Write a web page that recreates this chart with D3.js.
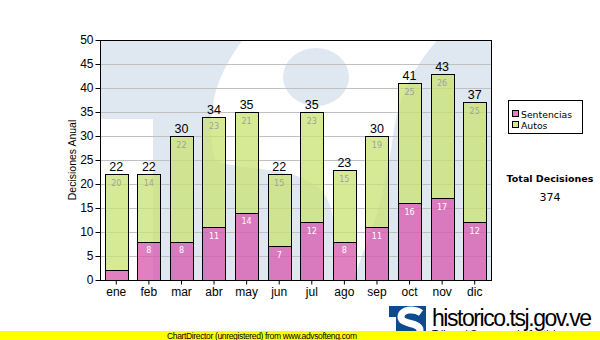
<!DOCTYPE html>
<html><head><meta charset="utf-8">
<script src="https://cdn.jsdelivr.net/npm/d3@7/dist/d3.min.js"></script>
<style>body{margin:0;background:#fff}svg{display:block}</style>
</head><body>
<svg id="c" width="600" height="340"></svg>
<script>
const months = ["ene","feb","mar","abr","may","jun","jul","ago","sep","oct","nov","dic"];
const sentencias = [2,8,8,11,14,7,12,8,11,16,17,12];
const autos = [20,14,22,23,21,15,23,15,19,25,26,25];
const yTicks = [0,5,10,15,20,25,30,35,40,45,50];
const seriesNames = ["Sentencias","Autos"];
const totalLabel = "Total Decisiones";

const svg = d3.select("#c");
const M = {l:100, r:491, t:40, b:280};
const x = d3.scaleBand().domain(months).range([M.l, M.r]).paddingInner(0.29).paddingOuter(0.145);
const y = d3.scaleLinear().domain([0,50]).range([M.b, M.t]);
const pink = "rgba(214,86,171,0.75)", green = "rgba(200,227,115,0.75)";
const fontA = "'Liberation Sans', Arial, sans-serif";
const fontV = "'DejaVu Sans', Verdana, sans-serif";

// plot background with watermark
const defs = svg.append("defs");
defs.append("clipPath").attr("id","pc").append("rect")
  .attr("x",M.l).attr("y",M.t).attr("width",M.r-M.l).attr("height",M.b-M.t);
const wm = svg.append("g").attr("clip-path","url(#pc)");
wm.append("rect").attr("x",M.l).attr("y",M.t).attr("width",M.r-M.l).attr("height",M.b-M.t).attr("fill","#dfe8f1");
wm.append("rect").attr("x",100).attr("y",119).attr("width",53).attr("height",170).attr("fill","#fff");
wm.append("path").attr("fill","#fff").attr("d",
  "M250,30 L445,30 C425,55 402,80 394,130 C388,170 382,200 370,235 C362,255 356,270 352,290 L333,290 " +
  "L333,220 C330,195 320,182 290,174 C250,166 222,166 215,160 C210,140 210,120 213,105 C216,85 225,62 250,30 Z");
wm.append("ellipse").attr("cx",316).attr("cy",77).attr("rx",33).attr("ry",29).attr("fill","#dfe8f1");

// grid
svg.append("g").selectAll("line").data(yTicks.filter(d=>d>0&&d<50)).join("line")
  .attr("x1",M.l).attr("x2",M.r).attr("y1",d=>y(d)+0.5).attr("y2",d=>y(d)+0.5)
  .attr("stroke","#c0c0c0").attr("stroke-width",1);

// bars
const g = svg.append("g");
months.forEach((m,i)=>{
  const bx = Math.round(x(m))+0.5, bw = Math.round(x.bandwidth());
  const s = sentencias[i], a = autos[i], t = s + a;
  g.append("rect").attr("x",bx).attr("y",Math.round(y(s))+0.5).attr("width",bw)
    .attr("height",Math.round(y(0))-Math.round(y(s))).attr("fill",pink).attr("stroke","#000");
  g.append("rect").attr("x",bx).attr("y",Math.round(y(t))+0.5).attr("width",bw)
    .attr("height",Math.round(y(s))-Math.round(y(t))).attr("fill",green).attr("stroke","#000");
  const cx = x(m)+x.bandwidth()/2;
  g.append("text").attr("x",cx).attr("y",y(t)-3).attr("text-anchor","middle")
    .attr("font-family",fontA).attr("font-size",12.5).attr("fill","#000").text(t);
  g.append("text").attr("x",cx).attr("y",y(t)+12).attr("text-anchor","middle")
    .attr("font-family",fontV).attr("font-size",8).attr("fill","#a0a0a0").text(a);
  if (y(0)-y(s) > 14)
    g.append("text").attr("x",cx).attr("y",y(s)+11.5).attr("text-anchor","middle")
      .attr("font-family",fontV).attr("font-size",8).attr("fill","#fff").text(s);
});

// frame
svg.append("rect").attr("x",M.l+0.5).attr("y",M.t+0.5).attr("width",M.r-M.l).attr("height",M.b-M.t)
  .attr("fill","none").attr("stroke","#000");

// axes
const ya = svg.append("g").attr("transform",`translate(${M.l+0.5},0)`)
  .call(d3.axisLeft(y).tickValues(yTicks).tickSize(5).tickPadding(2));
ya.select(".domain").remove();
ya.selectAll("text").attr("font-family",fontA).attr("font-size",12).attr("fill","#000");
ya.selectAll("line").attr("stroke","#000");
const xa = svg.append("g").attr("transform",`translate(0,${M.b+0.5})`)
  .call(d3.axisBottom(x).tickSize(4).tickPadding(3));
xa.select(".domain").remove();
xa.selectAll("text").attr("font-family",fontA).attr("font-size",12).attr("fill","#000");
xa.selectAll("line").attr("stroke","#000");

svg.append("text").attr("transform","translate(76,160) rotate(-90)").attr("text-anchor","middle")
  .attr("font-family",fontA).attr("font-size",10.5).attr("fill","#000").text("Decisiones Anual");

// legend
const lg = svg.append("g");
lg.append("rect").attr("x",508.5).attr("y",100.5).attr("width",74).attr("height",33).attr("fill","#fff").attr("stroke","#000");
[pink, green].forEach((c,i)=>{
  lg.append("rect").attr("x",512.5).attr("y",110.5+i*11).attr("width",6).attr("height",6).attr("fill",c).attr("stroke","#000");
  lg.append("text").attr("x",521).attr("y",117.5+i*11).attr("font-family",fontV).attr("font-size",9.3)
    .attr("fill","#000").text(seriesNames[i]);
});
const total = d3.sum(sentencias)+d3.sum(autos);
svg.append("text").attr("x",550).attr("y",182).attr("text-anchor","middle").attr("font-family",fontV)
  .attr("font-size",9.5).attr("font-weight","bold").text(totalLabel);
svg.append("text").attr("x",550).attr("y",201).attr("text-anchor","middle").attr("font-family",fontV)
  .attr("font-size",11).text(total);

// logo
const lo = svg.append("g");
lo.append("rect").attr("x",389).attr("y",306).attr("width",37).attr("height",34).attr("fill","#0d4a8e");
lo.append("rect").attr("x",389).attr("y",317).attr("width",7).attr("height",23).attr("fill","#fff");
lo.append("path").attr("fill","none").attr("stroke","#fff").attr("stroke-width",7)
  .attr("d","M421,313 C414,308 401,309 401,317 C401,325 420,322 420,330 C420,338 406,339 399,335");
lo.append("text").attr("x",432).attr("y",326).attr("font-family",fontA).attr("font-size",23)
  .attr("textLength",160).attr("fill","#000").text("historico.tsj.gov.ve");
lo.append("text").attr("x",432).attr("y",338).attr("font-family",fontA).attr("font-size",10)
  .attr("fill","#000").text("Tribunal Supremo de Justicia");

// footer bar
svg.append("rect").attr("x",0).attr("y",331).attr("width",600).attr("height",9).attr("fill","#ffff00");
svg.append("text").attr("x",262).attr("y",339).attr("text-anchor","middle").attr("font-family",fontA)
  .attr("font-size",8.5).attr("textLength",190).attr("fill","#000").text("ChartDirector (unregistered) from www.advsofteng.com");
</script>
</body></html>
